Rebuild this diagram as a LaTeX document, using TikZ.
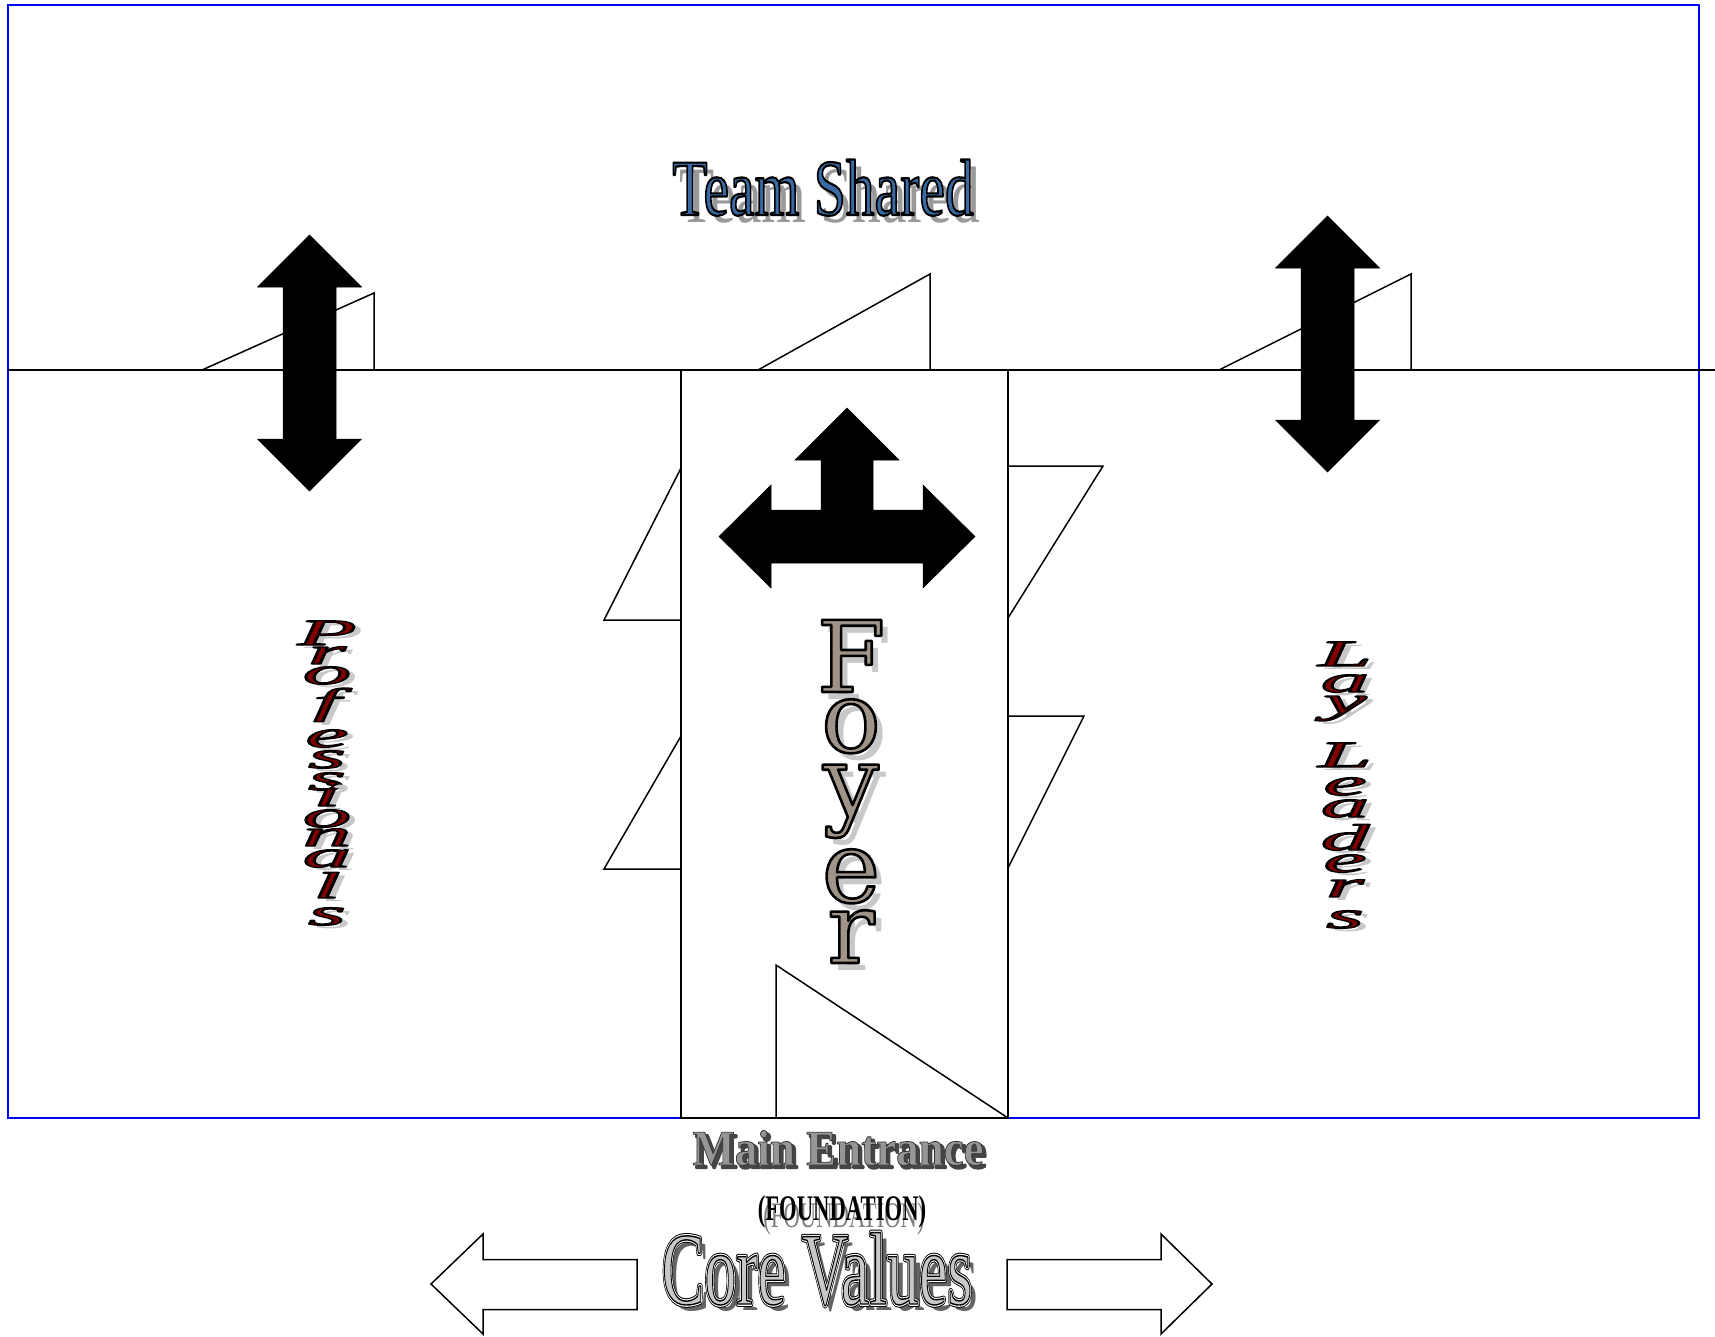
\documentclass[tikz,border=0pt]{standalone}
\usepackage{fontspec}
\usepackage{graphicx}
\usetikzlibrary{calc}
\newfontfamily\tnr{Liberation Serif}
\newfontfamily\dvs{DejaVu Serif}

\definecolor{frameblue}{RGB}{0,0,255}
\definecolor{teamblue}{RGB}{58,106,163}
\definecolor{leadred}{RGB}{128,0,0}
\definecolor{stone}{RGB}{160,148,137}
\definecolor{softshadow}{RGB}{200,200,200}
\definecolor{coregray}{RGB}{200,200,200}
\definecolor{coreshadow}{RGB}{100,100,100}
\definecolor{bevelfront}{RGB}{150,150,150}
\definecolor{beveldark}{RGB}{70,70,70}

% glyphs painted with fill and a stroked outline
% #1 stroke colour as PDF rgb triple, #2 stroke width, #3 text
\newcommand\strokedtext[3]{%
  \special{pdf:literal direct #1 RG #2 w 1 j 2 Tr}#3\special{pdf:literal direct 0 Tr 0 j 1 w}}

% filled text with a black outline and a drop shadow
% #1 fill, #2 shadow colour, #3 shadow dx, #4 shadow dy, #5 outline width, #6 text
\newcommand\arttext[6]{%
  \leavevmode
  \rlap{\hspace{#3}\raisebox{-#4}{\textcolor{#2}{#6}}}%
  \textcolor{#1}{\strokedtext{0 0 0}{#5}{#6}}}

% double-outlined text with a dark shadow
\newcommand\doubleline[1]{%
  \leavevmode
  \rlap{\hspace{6pt}\raisebox{-6pt}{\textcolor{coreshadow}{#1}}}%
  \rlap{\textcolor{black}{\strokedtext{0 0 0}{5.6}{#1}}}%
  \rlap{\textcolor{white}{\strokedtext{1 1 1}{3.6}{#1}}}%
  \textcolor{coregray}{\strokedtext{0 0 0}{1.4}{#1}}}

% extruded grey lettering
\newcommand\beveltext[1]{%
  \leavevmode
  \rlap{\hspace{3pt}\raisebox{-3pt}{\textcolor{beveldark}{\strokedtext{0.27 0.27 0.27}{2.4}{#1}}}}%
  \textcolor{bevelfront}{\strokedtext{0.2 0.2 0.2}{0.8}{#1}}}

\newcommand\leadletter[1]{\scalebox{2.6}[1]{\fontsize{37}{37}\tnr\itshape #1}}

\tikzset{
  wall/.style={draw=black, line width=1.5},
  panel/.style={draw=black, fill=white, line width=1.5},
  blockarrow/.style={fill=black, draw=black, line width=0.5},
  hollowarrow/.style={draw=black, fill=white, line width=1.5},
  letter/.style={anchor=base, inner sep=0pt}
}

\begin{document}
\begin{tikzpicture}[x=1pt, y=-1pt]
  \useasboundingbox (0,0) rectangle (1715,1336);
  \fill[white] (0,0) rectangle (1715,1336);

  % outer frame and the floor line
  \draw[frameblue, line width=1.5] (8,5) rectangle (1699,1118);
  \draw[wall] (8,370) -- (1715,370);

  % roof pitches on the floor line
  \draw[wall] (202,370) -- (374,293) -- (374,370);
  \draw[wall] (758,370) -- (930,274) -- (930,370);
  \draw[wall] (1219,370) -- (1411,274) -- (1411,370);

  % vertical double arrows
  \fill[blockarrow] (309.5,235) -- (361.5,287) -- (336,287) -- (336,439) -- (361.5,439)
    -- (309.5,491) -- (257.5,439) -- (283,439) -- (283,287) -- (257.5,287) -- cycle;
  \fill[blockarrow] (1327.5,216) -- (1379.5,268) -- (1354,268) -- (1354,420) -- (1379.5,420)
    -- (1327.5,472) -- (1275.5,420) -- (1301,420) -- (1301,268) -- (1275.5,268) -- cycle;

  % side wings of the foyer
  \draw[wall] (681,468) -- (604,620) -- (681,620);
  \draw[wall] (681,736) -- (604,869) -- (681,869);
  \draw[wall] (1008,466) -- (1103,466) -- (1008,618);
  \draw[wall] (1008,716) -- (1084,716) -- (1008,868);

  % foyer
  \draw[panel] (681,370) rectangle (1008,1118);
  \draw[wall] (776,1118) -- (776,965) -- (1008,1118);

  % three-way arrow
  \fill[blockarrow] (847,408) -- (899,460) -- (873,460) -- (873,510) -- (923,510) -- (923,485)
    -- (975,536.5) -- (923,588) -- (923,563) -- (771,563) -- (771,588) -- (719,536.5)
    -- (771,485) -- (771,510) -- (821,510) -- (821,460) -- (795,460) -- cycle;

  % headings
  \node[letter] (team) at (823,215)
    {\arttext{teamblue}{black!40}{7pt}{7pt}{2.2}{\scalebox{0.72}[1]{\fontsize{80}{80}\tnr Team Shared}}};

  \foreach \ch/\yy [count=\i] in {F/692,o/752,y/816,e/902,r/963}
    \node[letter] (foyer-\i) at (851,\yy)
      {\arttext{stone}{softshadow}{7pt}{7pt}{2.6}{\fontsize{99}{99}\dvs \ch}};

  \foreach \ch/\yy [count=\i] in {P/645,r/664,o/684,f/714,e/747,s/768,s/790,i/806,o/827,n/846,a/867,l/898,s/925}
    \node[letter] (prof-\i) at (327,\yy)
      {\arttext{leadred}{softshadow}{7pt}{3pt}{1.2}{\leadletter{\ch}}};

  \foreach \ch/\yy [count=\i] in {L/666,a/692,y/713,L/767,e/795,a/817,d/850,e/872,r/897,s/928}
    \node[letter] (lay-\i) at (1345,\yy)
      {\arttext{leadred}{softshadow}{7pt}{3pt}{1.2}{\leadletter{\ch}}};

  \node[letter] (entrance) at (838,1165)
    {\beveltext{\scalebox{0.9}[1]{\fontsize{50}{50}\tnr\bfseries Main Entrance}}};

  \node[letter, text=gray] (foundshadow) at (844,1227)
    {\scalebox{0.63}[1]{\fontsize{36}{36}\tnr (FOUNDATION)}};
  \node[letter] (foundation) at (842,1220)
    {\scalebox{0.63}[1]{\fontsize{36}{36}\tnr\bfseries (FOUNDATION)}};

  \node[letter] (core) at (817,1304)
    {\doubleline{\scalebox{0.62}[1]{\fontsize{103}{103}\tnr Core Values}}};

  % core values arrows
  \draw[hollowarrow] (637,1259.5) -- (483,1259.5) -- (483,1234) -- (431,1284)
    -- (483,1334) -- (483,1309.5) -- (637,1309.5) -- cycle;
  \draw[hollowarrow] (1007,1259.5) -- (1161,1259.5) -- (1161,1234) -- (1212,1284)
    -- (1161,1334) -- (1161,1309.5) -- (1007,1309.5) -- cycle;
\end{tikzpicture}
\end{document}
